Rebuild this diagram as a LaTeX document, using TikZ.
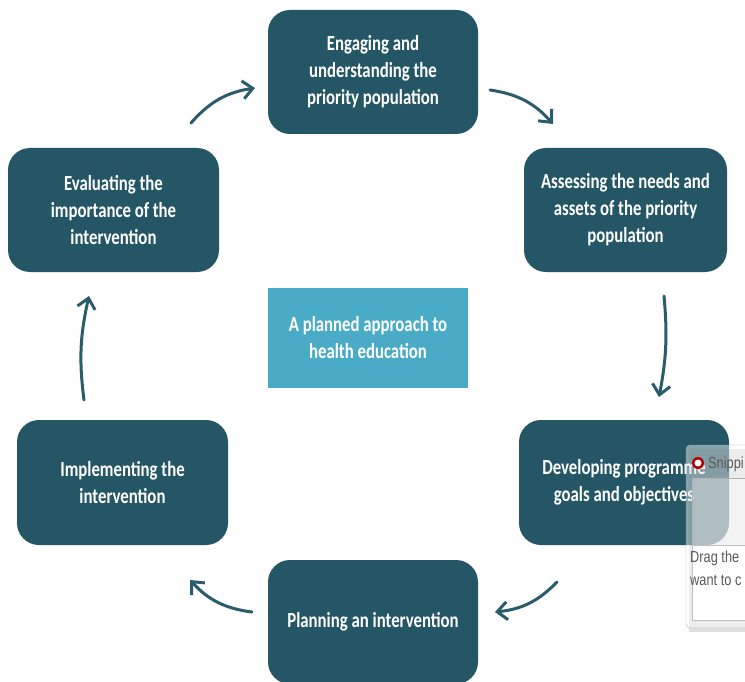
\documentclass[tikz,border=0pt]{standalone}
\usepackage{fontspec}
\setmainfont{Carlito}[FakeStretch=0.78]
\newfontfamily\winfont{Liberation Sans}[FakeStretch=0.8]
\usetikzlibrary{arrows.meta}
\definecolor{boxdark}{HTML}{245666}
\definecolor{boxcyan}{HTML}{4AABC6}
\definecolor{arrowc}{HTML}{2A5C6B}
\definecolor{wingrey}{HTML}{5A5A5A}
\begin{document}
\begin{tikzpicture}[x=1pt,y=-1pt,
  stage/.style={fill=boxdark, rounded corners=22pt, text=white,
    font=\bfseries\fontsize{21.5}{27}\selectfont, align=center,
    minimum width=210pt, minimum height=124pt, inner sep=0pt},
  hub/.style={fill=boxcyan, text=white,
    font=\bfseries\fontsize{21.5}{27}\selectfont, align=center,
    minimum width=200pt, minimum height=100pt, inner sep=0pt},
  flow/.style={draw=arrowc, line width=3pt, line cap=round,
    -{Straight Barb[length=10pt,width=18pt,line width=3pt]}, bend left=20},
  wintext/.style={font=\winfont\fontsize{16}{18}\selectfont, text=wingrey, anchor=west, inner sep=0pt}]
\useasboundingbox (0,0) rectangle (745,682);
\fill[white] (0,0) rectangle (745,682);

\node[stage] (top) at (373,72) {Engaging and\\understanding the\\priority population};
\node[stage, minimum width=203pt] (ru) at (625.5,210) {Assessing the needs and\\assets of the priority\\population};
\node[stage, minimum width=211pt] (lu) at (113.5,210) {Evaluating the\\importance of the\\intervention};
\node[stage, minimum width=211pt, minimum height=125pt] (ll) at (122.5,482.5) {Implementing the\\intervention};
\node[stage, minimum height=125pt] (rl) at (624,482.5) {Developing programme\\goals and objectives};
\node[stage, minimum height=124pt] (bot) at (373,622) {Planning an intervention};
\node[hub] (hub) at (368,338) {A planned approach to\\health education};

\coordinate (a1s) at (191,123); \coordinate (a1e) at (255,88);
\coordinate (a2s) at (490,90);  \coordinate (a2e) at (553,124);
\coordinate (a3s) at (664,296); \coordinate (a3e) at (659,397);
\coordinate (a4s) at (557,582); \coordinate (a4e) at (495,612);
\coordinate (a5s) at (252,612); \coordinate (a5e) at (190,580);
\coordinate (a6s) at (84,400);  \coordinate (a6e) at (89,296);

\draw[flow] (a1s) to (a1e);
\draw[flow] (a2s) to (a2e);
\draw[flow, bend left=8] (a3s) to (a3e);
\draw[flow] (a4s) to (a4e);
\draw[flow] (a5s) to (a5e);
\draw[flow, bend left=10] (a6s) to (a6e);

% partial snipping-tool window overlay
\begin{scope}
  \clip (0,0) rectangle (745,682);
  \fill[black, opacity=0.12] (689,449) rectangle (760,632);
  \fill[white, fill opacity=0.45, draw=gray!70, draw opacity=0.9, rounded corners=4pt]
    (686,445) rectangle (770,628);
  \fill[white, fill opacity=0.35, draw=gray!60] (692,478) rectangle (770,545);
  \fill[white, draw=gray!50] (692,545) rectangle (770,620);
  \fill[red!70!black] (698,463) circle (6pt);
  \fill[white] (698,463) circle (3.5pt);
  \node[wintext] (wtitle) at (708,464) {Snippi};
  \node[wintext] (wline1) at (690,558) {Drag the};
  \node[wintext] (wline2) at (690,580) {want to c};
\end{scope}
\end{tikzpicture}
\end{document}
